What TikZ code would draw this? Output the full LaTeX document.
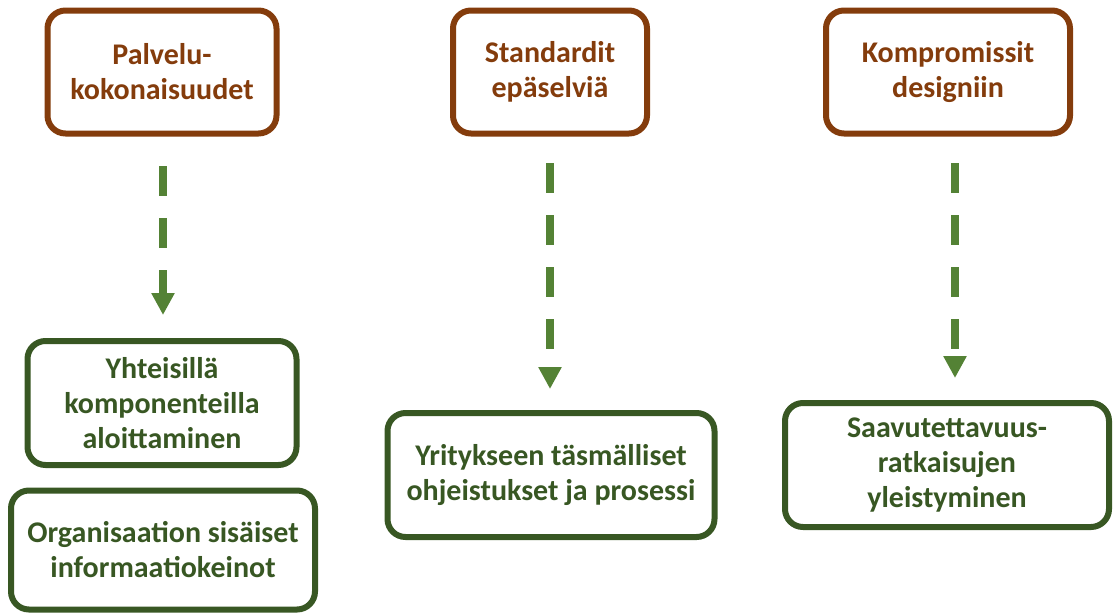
\documentclass[tikz,border=0pt]{standalone}
\usepackage{fontspec}
\setmainfont{Carlito}
\usetikzlibrary{arrows.meta,positioning}
\definecolor{rust}{RGB}{132,60,12}
\definecolor{forest}{RGB}{56,87,35}
\definecolor{leaf}{RGB}{84,130,53}
\tikzset{
  topic/.style={draw=rust,text=rust,line width=6pt,rounded corners=18pt,fill=white,align=center,font=\fontsize{30}{35}\selectfont\bfseries},
  result/.style={topic,draw=forest,text=forest},
  link/.style={-{Triangle[length=22pt,width=22pt]},draw=leaf,line width=8pt,dash pattern=on 30pt off 22pt}
}
\begin{document}
\begin{tikzpicture}[x=1pt,y=-1pt]
\useasboundingbox (0,0) rectangle (1114,614);
% upper boxes
\node[topic,minimum width=229pt,minimum height=123pt] (pk) at (162,72) {Palvelu-\\kokonaisuudet};
\node[topic,minimum width=194pt,minimum height=123pt] (se) at (550,72) {Standardit\\epäselviä};
\node[topic,minimum width=244pt,minimum height=123pt] (kd) at (948,72) {Kompromissit\\designiin};
% lower boxes
\node[result,minimum width=269pt,minimum height=124pt] (yk) at (162,403) {Yhteisillä\\komponenteilla\\aloittaminen};
\node[result,minimum width=304pt,minimum height=119pt] (os) at (163,550) {Organisaation sisäiset\\informaatiokeinot};
\node[result,minimum width=327pt,minimum height=124pt] (yt) at (551,475) {Yritykseen täsmälliset\\ohjeistukset ja prosessi};
\node[result,minimum width=324pt,minimum height=124pt] (sr) at (947,465) {Saavutettavuus-\\ratkaisujen\\yleistyminen};
% arrows
\coordinate (a1) at (163,166);
\coordinate (b1) at (163,315);
\coordinate (a2) at (550,163);
\coordinate (b2) at (550,389);
\coordinate (a3) at (955,163);
\coordinate (b3) at (955,378);
\draw[link] (a1) -- (b1);
\draw[link] (a2) -- (b2);
\draw[link] (a3) -- (b3);
\end{tikzpicture}
\end{document}
